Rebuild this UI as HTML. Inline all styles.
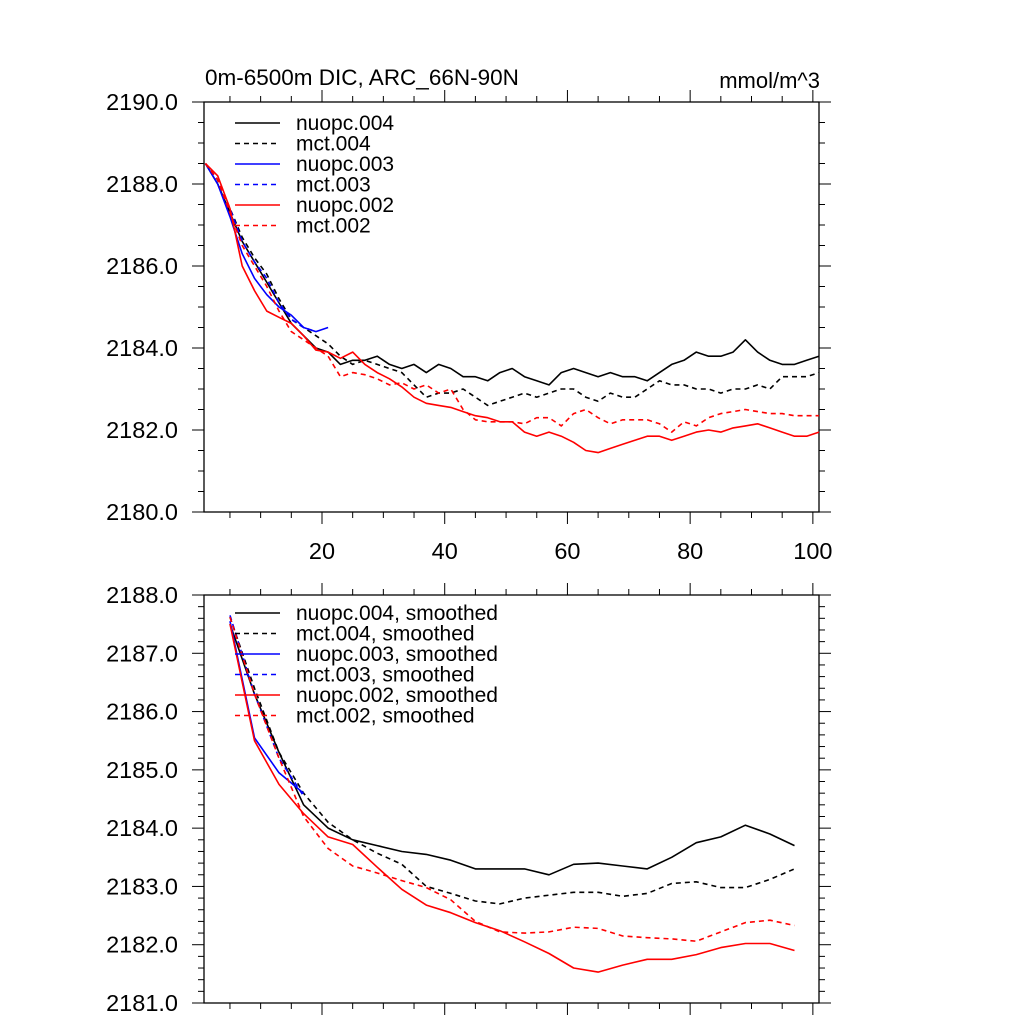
<!DOCTYPE html>
<html><head><meta charset="utf-8"><style>
html,body{margin:0;padding:0;background:#fff;}
svg{display:block;font-family:"Liberation Sans",sans-serif;}
</style></head><body>
<svg id="chart" width="1024" height="1024" viewBox="0 0 1024 1024">
<text x="205" y="85" font-size="22.5">0m-6500m DIC, ARC_66N-90N</text>
<text x="820" y="88" font-size="22" text-anchor="end">mmol/m^3</text>
<g id="top"></g>
<g id="bot"></g>
</svg>
<script>
// ---- top panel data (years 1..101 step 2) ----
const topYears = [1,3,5,7,9,11,13,15,17,19,21,23,25,27,29,31,33,35,37,39,41,43,45,47,49,51,53,55,57,59,61,63,65,67,69,71,73,75,77,79,81,83,85,87,89,91,93,95,97,99,101];
const topNuopc004 = [2188.5,2188.0,2187.3,2186.6,2186.1,2185.6,2185.1,2184.6,2184.3,2184.0,2183.9,2183.6,2183.7,2183.7,2183.8,2183.6,2183.5,2183.6,2183.4,2183.6,2183.5,2183.3,2183.3,2183.2,2183.4,2183.5,2183.3,2183.2,2183.1,2183.4,2183.5,2183.4,2183.3,2183.4,2183.3,2183.3,2183.2,2183.4,2183.6,2183.7,2183.9,2183.8,2183.8,2183.9,2184.2,2183.9,2183.7,2183.6,2183.6,2183.7,2183.8];
const topMct004 = [2188.5,2188.1,2187.4,2186.7,2186.2,2185.8,2185.2,2184.7,2184.5,2184.3,2184.1,2183.8,2183.6,2183.7,2183.6,2183.5,2183.4,2183.1,2182.8,2182.9,2182.9,2183.0,2182.8,2182.6,2182.7,2182.8,2182.9,2182.8,2182.9,2183.0,2183.0,2182.8,2182.7,2182.9,2182.8,2182.8,2183.0,2183.2,2183.1,2183.1,2183.0,2183.0,2182.9,2183.0,2183.0,2183.1,2183.0,2183.3,2183.3,2183.3,2183.4];
const topNuopc003 = [2188.5,2188.0,2187.2,2186.3,2185.7,2185.3,2185.0,2184.8,2184.5,2184.4,2184.5];
const topMct003 = [2188.5,2188.1,2187.4,2186.6,2186.1,2185.7,2185.1,2184.7,2184.5,2184.4];
const topNuopc002 = [2188.5,2188.2,2187.4,2186.0,2185.4,2184.9,2184.75,2184.6,2184.3,2183.95,2183.9,2183.75,2183.9,2183.6,2183.4,2183.25,2183.05,2182.8,2182.65,2182.6,2182.55,2182.45,2182.35,2182.3,2182.2,2182.2,2181.95,2181.85,2181.95,2181.85,2181.7,2181.5,2181.45,2181.55,2181.65,2181.75,2181.85,2181.85,2181.75,2181.85,2181.95,2182.0,2181.95,2182.05,2182.1,2182.15,2182.05,2181.95,2181.85,2181.85,2181.95];
const topMct002 = [2188.5,2188.1,2187.3,2186.5,2186.0,2185.5,2184.9,2184.4,2184.2,2184.0,2183.8,2183.3,2183.4,2183.35,2183.25,2183.1,2183.15,2183.0,2183.1,2182.9,2183.0,2182.5,2182.25,2182.2,2182.2,2182.2,2182.15,2182.3,2182.3,2182.1,2182.4,2182.5,2182.3,2182.15,2182.25,2182.25,2182.25,2182.15,2181.95,2182.2,2182.1,2182.3,2182.4,2182.45,2182.5,2182.45,2182.4,2182.4,2182.35,2182.35,2182.35];
// ---- bottom panel data (smoothed, years 5..97 step 4) ----
const botYears = [5,9,13,17,21,25,29,33,37,41,45,49,53,57,61,65,69,73,77,81,85,89,93,97];
const botNuopc004 = [2187.5,2186.3,2185.3,2184.4,2184.0,2183.8,2183.7,2183.6,2183.55,2183.45,2183.3,2183.3,2183.3,2183.2,2183.38,2183.4,2183.35,2183.3,2183.5,2183.75,2183.85,2184.05,2183.9,2183.7];
const botMct004 = [2187.62,2186.4,2185.3,2184.6,2184.1,2183.8,2183.57,2183.38,2183.0,2182.88,2182.75,2182.7,2182.8,2182.85,2182.9,2182.9,2182.83,2182.88,2183.05,2183.08,2182.98,2182.98,2183.12,2183.3];
const botNuopc003 = [2187.55,2185.55,2184.95,2184.6];
const botMct003 = [2187.65,2186.3,2185.2,2184.55];
const botNuopc002 = [2187.5,2185.5,2184.75,2184.25,2183.85,2183.72,2183.33,2182.95,2182.68,2182.55,2182.38,2182.24,2182.05,2181.85,2181.6,2181.53,2181.65,2181.75,2181.75,2181.83,2181.95,2182.02,2182.02,2181.9];
const botMct002 = [2187.62,2186.3,2185.2,2184.2,2183.65,2183.35,2183.23,2183.1,2182.98,2182.77,2182.4,2182.22,2182.2,2182.22,2182.3,2182.28,2182.15,2182.12,2182.1,2182.06,2182.22,2182.38,2182.42,2182.33];
const xTickLabels = [20,40,60,80,100];
const topYTicks = [2180,2182,2184,2186,2188,2190];
const botYTicks = [2181,2182,2183,2184,2185,2186,2187,2188];
const topLegend = ["nuopc.004","mct.004","nuopc.003","mct.003","nuopc.002","mct.002"];
const botLegend = ["nuopc.004, smoothed","mct.004, smoothed","nuopc.003, smoothed","mct.003, smoothed","nuopc.002, smoothed","mct.002, smoothed"];

const NS = "http://www.w3.org/2000/svg";
const L = 204, R = 819;
const xmin = 0.77, xmax = 101;
function xs(v){ return L + (v - xmin) / (xmax - xmin) * (R - L); }
function mk(tag, attrs, parent){ const e = document.createElementNS(NS, tag); for (const k in attrs) e.setAttribute(k, attrs[k]); parent.appendChild(e); return e; }

const styles = [
  {c:"#000", d:null, n:"nuopc-004"},
  {c:"#000", d:"5,4", n:"mct-004"},
  {c:"#0000ff", d:null, n:"nuopc-003"},
  {c:"#0000ff", d:"5,4", n:"mct-003"},
  {c:"#ff0000", d:null, n:"nuopc-002"},
  {c:"#ff0000", d:"5,4", n:"mct-002"}
];

function panel(g, T, B, ymin, ymax, yTicks, minorStep, years, series, legend, legY0, showXLabels){
  const ys = v => B - (v - ymin) / (ymax - ymin) * (B - T);
  const frame = mk("rect", {x:L, y:T, width:R-L, height:B-T, fill:"none", stroke:"#000", "stroke-width":1.3}, g);
  
  
  for (let v = ymin; v <= ymax + 1e-6; v += minorStep) {
    const y = ys(v);
    const major = yTicks.some(t => Math.abs(t - v) < 1e-6);
    const len = major ? 12 : 6;
    mk("line", {x1:L-len, x2:L, y1:y, y2:y, stroke:"#000", "stroke-width":1}, g);
    mk("line", {x1:R, x2:R+len, y1:y, y2:y, stroke:"#000", "stroke-width":1}, g);
  }
  yTicks.forEach(t => {
    const tx = mk("text", {x:178, y:ys(t)+8, "font-size":23.5, "text-anchor":"end"}, g);
    tx.textContent = t.toFixed(1);
    
    
  });
  for (let v = 5; v <= 100; v += 5) {
    const x = xs(v);
    const major = v % 20 === 0;
    const len = major ? 12 : 6;
    mk("line", {x1:x, x2:x, y1:B, y2:B+len, stroke:"#000", "stroke-width":1}, g);
    mk("line", {x1:x, x2:x, y1:T-len, y2:T, stroke:"#000", "stroke-width":1}, g);
  }
  if (showXLabels) xTickLabels.forEach(t => {
    const tx = mk("text", {x:xs(t), y:B+47, "font-size":23.5, "text-anchor":"middle"}, g);
    tx.textContent = t;
    
    
  });
  series.forEach((vals, i) => {
    const st = styles[i];
    const pts = vals.map((v, j) => xs(years[j]).toFixed(1) + "," + ys(v).toFixed(1)).join(" ");
    const pl = mk("polyline", {points:pts, fill:"none", stroke:st.c, "stroke-width":1.6, "stroke-linejoin":"round"}, g);
    if (st.d) pl.setAttribute("stroke-dasharray", st.d);
    
    
  });
  legend.forEach((lab, i) => {
    const st = styles[i];
    const y = legY0 + i * 20.5;
    const ln = mk("line", {x1:235, x2:280, y1:y, y2:y, stroke:st.c, "stroke-width":1.5}, g);
    if (st.d) ln.setAttribute("stroke-dasharray", "5,4");
    
    
    const tx = mk("text", {x:296, y:y+7, "font-size":21}, g);
    tx.textContent = lab;
    
    
  });
}

panel(document.getElementById("top"), 102, 512, 2180, 2190, topYTicks, 0.5, topYears,
  [topNuopc004, topMct004, topNuopc003, topMct003, topNuopc002, topMct002], topLegend, 123, true);
panel(document.getElementById("bot"), 595, 1003, 2181, 2188, botYTicks, 0.2, botYears,
  [botNuopc004, botMct004, botNuopc003, botMct003, botNuopc002, botMct002], botLegend, 613, false);
</script>
</body></html>
